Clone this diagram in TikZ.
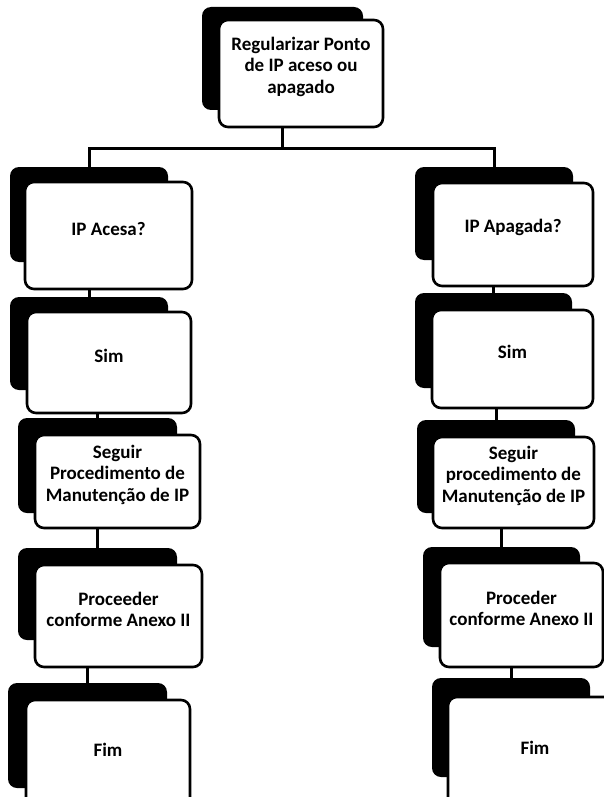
\documentclass[tikz,border=0pt]{standalone}
\usepackage{fontspec}
\setmainfont{Carlito}
\usetikzlibrary{fit}
\begin{document}
\begin{tikzpicture}[x=1pt,y=-1pt,
  backbox/.style={fill=black,rounded corners=9pt,inner sep=0pt},
  frontbox/.style={draw=black,line width=2.6pt,fill=white,rounded corners=9pt,inner sep=0pt,
    align=center,font=\fontsize{19}{21.5}\selectfont\bfseries},
  link/.style={draw=black,line width=3pt}]
\clip (0,0) rectangle (604,797);
\fill[white] (0,0) rectangle (604,797);

% top block
\node[backbox,fit={(202,7)(363,110)}] (b0) {};
\node[frontbox,fit={(219,20)(383,127)}] (f0) {Regularizar Ponto\\de IP aceso ou\\apagado};

% left column
\node[backbox,fit={(10,167)(168,262)}] (l1b) {};
\node[frontbox,fit={(25,182)(192,289)}] (l1) {IP Acesa?};
\node[backbox,fit={(10,297)(168,390)}] (l2b) {};
\node[frontbox,fit={(27,312)(191,413)}] (l2) {Sim};
\node[backbox,fit={(18,418)(177,513)}] (l3b) {};
\node[frontbox,fit={(35,435)(200,528)}] (l3) {Seguir\\Procedimento de\\Manutenção de IP};
\node[backbox,fit={(18,548)(177,640)}] (l4b) {};
\node[frontbox,fit={(35,565)(202,667)}] (l4) {Proceeder\\conforme Anexo II};
\node[backbox,fit={(8,683)(167,788)}] (l5b) {};
\node[frontbox,fit={(26,700)(190,812)}] (l5) {Fim};

% right column
\node[backbox,fit={(415,167)(573,260)}] (r1b) {};
\node[frontbox,fit={(433,183)(593,286)}] (r1) {IP Apagada?};
\node[backbox,fit={(415,293)(572,388)}] (r2b) {};
\node[frontbox,fit={(432,310)(593,408)}] (r2) {Sim};
\node[backbox,fit={(417,420)(575,513)}] (r3b) {};
\node[frontbox,fit={(433,437)(594,528)}] (r3) {Seguir\\procedimento de\\Manutenção de IP};
\node[backbox,fit={(423,547)(580,647)}] (r4b) {};
\node[frontbox,fit={(440,563)(603,667)}] (r4) {Proceder\\conforme Anexo II};
\node[backbox,fit={(432,678)(590,777)}] (r5b) {};
\node[frontbox,fit={(448,697)(622,812)}] (r5) {Fim};

% branch from the top block
\coordinate (jl) at (89,148);
\coordinate (jr) at (494,148);
\draw[link] (f0.south -| b0.north) -- (b0.north |- jl);
\draw[link,line cap=rect] (jl) -- (jr);
\draw[link] (jl) -- (l1b.north);
\draw[link] (jr) -- (r1b.north);

% links inside each column
\foreach \a/\b in {l1/l2,l2/l3,l3/l4,l4/l5,r1/r2,r2/r3,r3/r4,r4/r5}
  \draw[link] (\a.south -| \b b.north) -- (\b b.north);
\end{tikzpicture}
\end{document}
